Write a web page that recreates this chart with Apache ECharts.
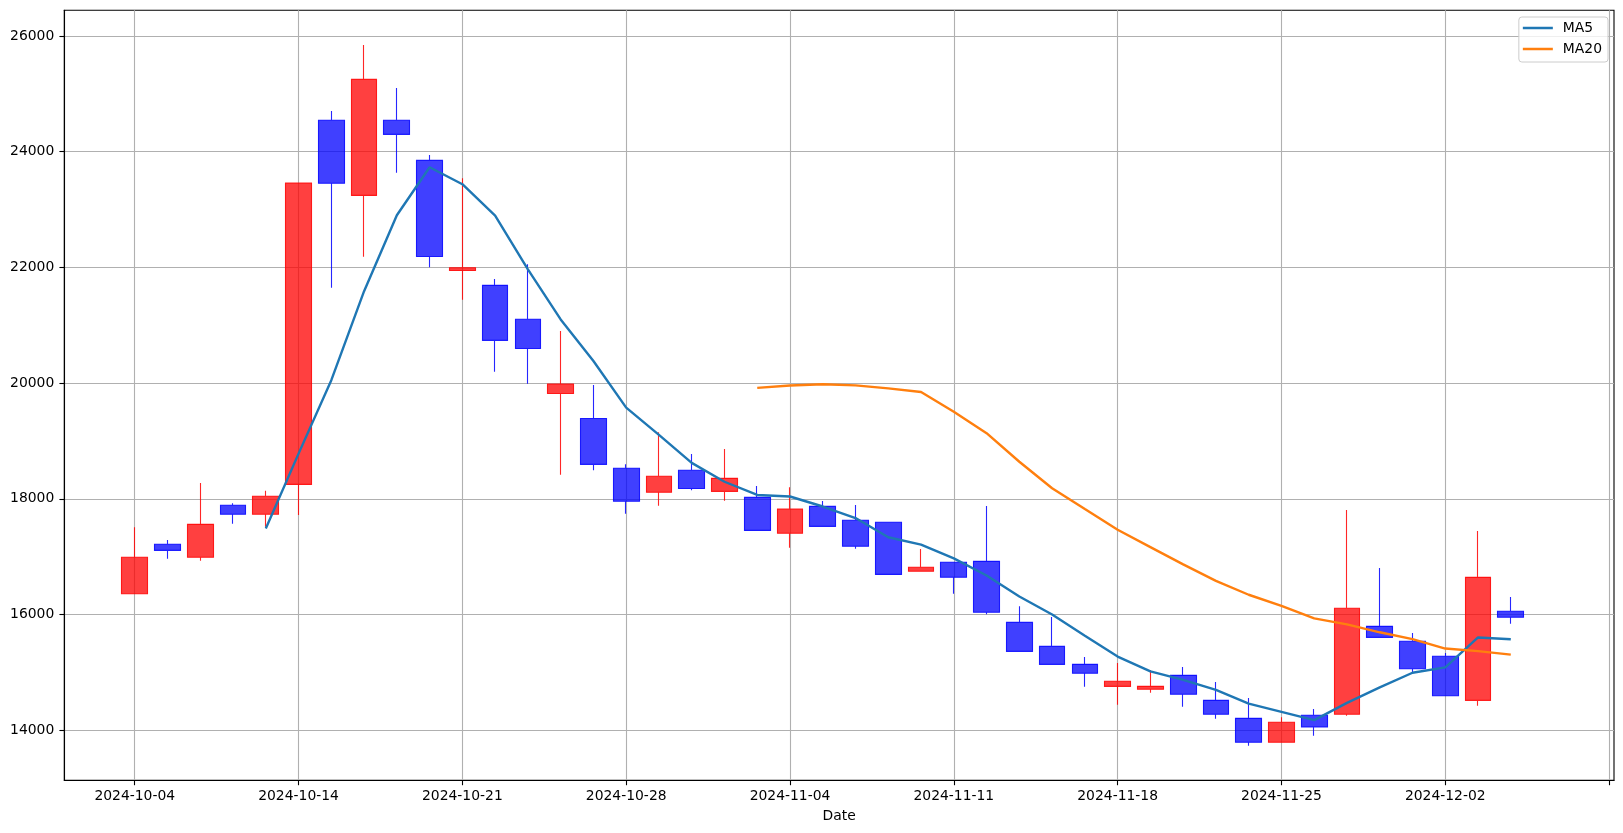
<!DOCTYPE html>
<html><head><meta charset="utf-8">
<script src="https://cdn.jsdelivr.net/npm/echarts@6/dist/echarts.min.js"></script>
<style>html,body{margin:0;padding:0;background:#fff}#c{width:1623px;height:833px}</style>
</head><body><div id="c"></div>
<script>
const dates = ['2024-10-04','2024-10-07','2024-10-08','2024-10-10','2024-10-11','2024-10-14','2024-10-15','2024-10-16','2024-10-17','2024-10-18',
  '2024-10-21','2024-10-22','2024-10-23','2024-10-24','2024-10-25','2024-10-28','2024-10-29','2024-10-30','2024-10-31','2024-11-01',
  '2024-11-04','2024-11-05','2024-11-06','2024-11-07','2024-11-08','2024-11-11','2024-11-12','2024-11-13','2024-11-14','2024-11-15',
  '2024-11-18','2024-11-19','2024-11-20','2024-11-21','2024-11-22','2024-11-25','2024-11-26','2024-11-27','2024-11-28','2024-11-29',
  '2024-12-02','2024-12-03','2024-12-04'];
const opens  = [16360,17215,16990,17890,17735,18250,24545,23245,24545,23850,21947,21690,21105,19820,19390,18530,18115,18495,18130,18025,
  17405,17870,17630,17595,16748,16905,16920,15865,15450,15140,14760,14709,14950,14518,14207,13793,14260,14277,15797,15538,15279,14518,16057];
const closes = [16990,17110,17560,17735,18045,23460,23455,25250,24300,22190,21995,20740,20600,19985,18597,17960,18390,18180,18355,17455,
  17825,17525,17180,16695,16817,16645,16040,15365,15140,14985,14847,14760,14622,14277,13793,14138,14057,16109,15607,15065,14598,16644,15953];
const lows   = [16360,16966,16931,17571,17519,17720,21650,22185,23637,22002,21442,20198,19990,18418,18494,17744,17882,18148,17968,17455,
  17156,17525,17139,16695,16748,16361,16005,15365,15140,14754,14442,14650,14408,14200,13734,13793,13907,14252,15607,15008,14590,14425,15842];
const highs  = [17510,17289,18274,17923,18141,23460,24703,25844,25101,23943,23540,21800,22054,20901,19968,18597,19150,18775,18862,18222,
  18200,17963,17894,17595,17133,16905,17877,16143,15958,15267,15163,15042,15094,14835,14558,14225,14368,17807,16805,15682,15336,17444,16304];
const ma5  = [null,null,null,null,17488,18782,20051,21589,22902,23731,23438,22895,21965,21102,20383,19576,19106,18622,18296,18068,
  18041,17868,17668,17336,17208,16972,16675,16312,16001,15635,15275,15019,14871,14698,14460,14318,14177,14475,14741,14995,15087,15605,15573];
const ma20 = [null,null,null,null,null,null,null,null,null,null,null,null,null,null,null,null,null,null,null,19918,
  19959,19980,19961,19909,19848,19507,19136,18642,18184,17824,17466,17167,16868,16583,16343,16152,15935,15832,15694,15575,15413,15369,15308];
const xTickIdx = [0,5,10,15,20,25,30,35,40,45];
const yTicks = [14000,16000,18000,20000,22000,24000,26000];

const FONT = 'DejaVu Sans';
const chart = echarts.init(document.getElementById('c'), null, {renderer:'canvas'});
const candleData = dates.map((d,i)=>[i, opens[i], closes[i], lows[i], highs[i]]);
const ma5Data = ma5.map((v,i)=>[i, v]);
const ma20Data = ma20.map((v,i)=>[i, v]);

chart.setOption({
  animation: false,
  backgroundColor: '#fff',
  textStyle: {fontFamily: FONT},
  grid: {left: 64.3, top: 10.3, right: 9, bottom: 52.7, show: true, borderColor: '#000', borderWidth: 1.1, backgroundColor: 'transparent'},
  legend: {
    data: ['MA5','MA20'], orient: 'vertical', right: 15, top: 17,
    icon: 'rect', itemWidth: 30, itemHeight: 2.5, itemGap: 7,
    padding: [4,6,6,4], borderColor: '#cccccc', borderWidth: 1, borderRadius: 3,
    backgroundColor: 'rgba(255,255,255,0.8)',
    textStyle: {fontFamily: FONT, fontSize: 13.9, color: '#000', padding: [0,0,0,5]}
  },
  xAxis: {
    type: 'value', min: -2.15, max: 45.15,
    name: 'Date', nameLocation: 'middle', nameGap: 29,
    nameTextStyle: {fontFamily: FONT, fontSize: 13.9, color: '#000'},
    axisLine: {show: true, onZero: false, lineStyle: {color: '#000', width: 1.1}},
    axisTick: {show: true, length: 4.9, lineStyle: {color: '#000', width: 1.1}, customValues: xTickIdx},
    axisLabel: {fontFamily: FONT, fontSize: 13.9, color: '#000', margin: 9, customValues: xTickIdx,
      formatter: v => (Math.round(v) < dates.length ? dates[Math.round(v)] : '')},
    splitLine: {show: true, lineStyle: {color: '#b0b0b0', width: 1.1}}
  },
  yAxis: {
    type: 'value', min: 13136, max: 26444, scale: true,
    axisLine: {show: true, onZero: false, lineStyle: {color: '#000', width: 1.1}},
    axisTick: {show: true, length: 4.9, lineStyle: {color: '#000', width: 1.1}, customValues: yTicks},
    axisLabel: {fontFamily: FONT, fontSize: 13.9, color: '#000', margin: 10, customValues: yTicks,
      formatter: v => String(Math.round(v))},
    splitLine: {show: true, lineStyle: {color: '#b0b0b0', width: 1.1}}
  },
  series: [
    {
      type: 'candlestick', name: 'OHLC', data: candleData, barWidth: 26.2,
      encode: {x: 0, y: [1,2,3,4]},
      itemStyle: {color: 'rgba(255,0,0,0.75)', color0: 'rgba(0,0,255,0.75)', borderColor: 'rgba(255,0,0,0.85)', borderColor0: 'rgba(0,0,255,0.85)', borderWidth: 1.1}
    },
    {type: 'line', name: 'MA5', data: ma5Data, showSymbol: false, symbol: 'none', lineStyle: {color: '#1f77b4', width: 2.4}, itemStyle: {color: '#1f77b4'}, z: 5},
    {type: 'line', name: 'MA20', data: ma20Data, showSymbol: false, symbol: 'none', lineStyle: {color: '#ff7f0e', width: 2.4}, itemStyle: {color: '#ff7f0e'}, z: 5}
  ]
});
</script></body></html>
